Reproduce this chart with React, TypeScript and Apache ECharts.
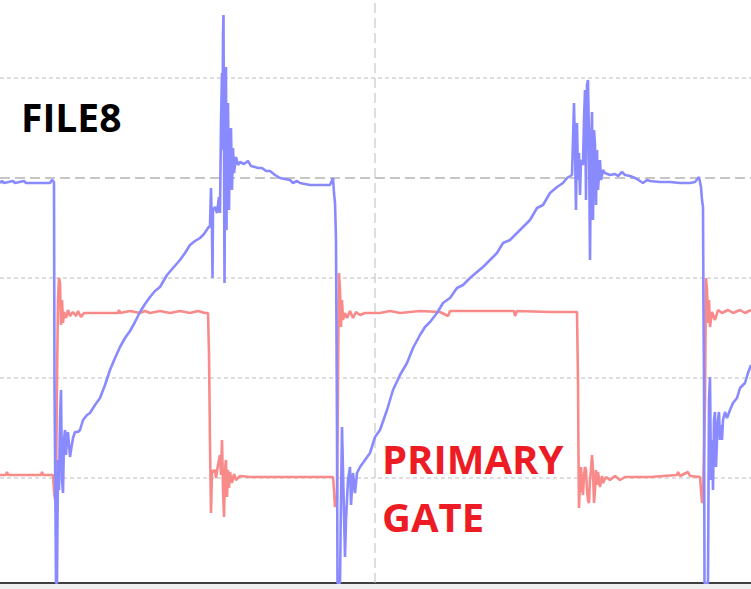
import React, { useEffect, useRef } from "react";
import * as echarts from "echarts";

// Time axis (arbitrary sample units) and voltage (scope units, 100 per division)
const X_MIN = 0;
const X_MAX = 751;
const Y_MIN = -105;
const Y_MAX = 478;

const gridLevels = [0, 100, 200, 400];
const centerLevel = 300;
const centerTime = 375;

const drainLabel = "FILE8";
const gateLabelLines = ["PRIMARY", "GATE"];

// Blue trace (drain / primary voltage)
const blueTrace: [number, number][] = [
  [0, 295], [2, 297], [4, 295], [13, 297], [15, 295], [24, 297], [26, 295], [50, 295], [52, 298], [54, 296],
  [54.5, 95], [55, 95], [56, -105], [57, -105], [58, 18], [59, -12], [60, 58], [61, 88], [62, -2], [63, -15],
  [64, 38], [65, 48], [66, 23], [67, 38], [68, 46], [70, 21], [71, 28], [73, 40], [75, 46], [78, 46],
  [80, 48], [83, 58], [87, 63], [90, 65], [95, 73], [100, 80], [105, 93], [110, 108], [115, 120], [120, 131],
  [125, 140], [130, 147], [135, 156], [140, 166], [145, 174], [150, 181], [155, 187], [160, 191], [167, 203], [173, 210],
  [180, 218], [185, 225], [190, 233], [195, 237], [200, 240], [204, 244], [208, 250], [210, 252], [211, 290], [212, 248],
  [212.5, 200], [213, 268], [215, 271], [217, 265], [219, 281], [220, 265], [221, 356], [222, 405], [222.5, 328], [223, 443],
  [223.5, 463], [224, 328], [224.5, 195], [225, 298], [226, 411], [226.5, 248], [227, 358], [228, 375], [229, 268], [230, 338],
  [231, 350], [232, 288], [233, 330], [234, 305], [236, 321], [238, 313], [240, 316], [244, 314], [248, 317], [251, 312],
  [255, 311], [258, 310], [262, 310], [266, 307], [270, 307], [275, 303], [280, 300], [285, 299], [290, 298], [293, 295],
  [297, 297], [300, 295], [310, 293], [330, 293], [333, 300], [334, 285], [335, 275], [336, 238], [337, 48], [337.5, -105],
  [340, -105], [341, -22], [342, 51], [343, 8], [345, -79], [346, -42], [348, -2], [350, 11], [351, -27], [353, 5],
  [355, -15], [357, 5], [360, 11], [365, 18], [370, 25], [375, 41], [380, 48], [387, 68], [393, 88], [400, 103],
  [407, 115], [413, 130], [420, 143], [425, 151], [430, 156], [437, 165], [443, 175], [450, 180], [457, 190], [463, 193],
  [470, 200], [477, 206], [483, 211], [490, 218], [497, 225], [503, 235], [510, 238], [517, 245], [523, 251], [530, 258],
  [537, 270], [543, 273], [550, 285], [557, 291], [563, 295], [567, 300], [572, 303], [573, 338], [574, 375], [575, 328],
  [576, 268], [577, 355], [578, 298], [579, 325], [580, 283], [581, 318], [583, 313], [584, 358], [585, 388], [586, 278],
  [587, 393], [588, 398], [589, 338], [590, 218], [591, 328], [592, 366], [593, 258], [594, 348], [595, 333], [596, 273],
  [597, 328], [598, 288], [600, 318], [601, 298], [603, 308], [605, 305], [610, 303], [615, 304], [618, 302], [622, 306],
  [625, 303], [630, 302], [635, 300], [640, 297], [643, 295], [647, 298], [650, 297], [660, 296], [670, 296], [680, 295],
  [690, 295], [695, 296], [699, 301], [701, 291], [702, 278], [703, 271], [703.5, 165], [704, 100], [704.5, -105], [708, -105],
  [709, 78], [710, 101], [711, -2], [712, 38], [713, -12], [714, 58], [715, 66], [716, 11], [717, 38], [718, 58],
  [719, 66], [720, 38], [721, 53], [722, 38], [723, 58], [725, 66], [727, 60], [730, 68], [733, 75], [737, 80],
  [740, 90], [745, 95], [748, 105], [751, 113],
];

// Red trace (primary gate voltage)
const redTrace: [number, number][] = [
  [0, 3], [6, 3], [7, 6], [8, 3], [41, 3], [42, 6], [43, 3], [53, 3], [54, -12], [55, -22],
  [56, -17], [57, 98], [58, 178], [59, 200], [60, 195], [61, 153], [62, 178], [63, 155], [64, 166], [66, 160],
  [68, 168], [70, 162], [73, 166], [76, 162], [78, 167], [81, 161], [84, 165], [88, 165], [118, 165], [119, 168],
  [120, 165], [130, 167], [140, 165], [145, 167], [150, 165], [160, 167], [170, 165], [180, 167], [190, 165], [198, 167],
  [205, 165], [208, 165], [209, 125], [210, 35], [211, -35], [212, 8], [213, 6], [215, 8], [216, 0], [218, 13],
  [220, 23], [221, 3], [222, 38], [223, -12], [224, -39], [225, 8], [226, 18], [227, -19], [228, 8], [229, -10],
  [230, 6], [232, -5], [234, 4], [236, -2], [240, 2], [250, 1], [333, 1], [334, -12], [335, -29], [337, -22],
  [338, 98], [339, 205], [340, 188], [341, 151], [342, 178], [343, 158], [345, 165], [347, 160], [350, 167], [353, 160],
  [356, 166], [360, 163], [365, 165], [380, 165], [390, 167], [400, 165], [420, 167], [440, 166], [448, 162], [450, 167],
  [480, 167], [514, 167], [515, 162], [517, 167], [550, 166], [577, 166], [578, 98], [578.5, 20], [579, -30], [580, -2],
  [581, 11], [582, -12], [583, -17], [584, 3], [585, 11], [586, 8], [587, -12], [588, -22], [589, -25], [590, -2],
  [591, 8], [592, 23], [593, 8], [594, -25], [595, -12], [596, 8], [597, -7], [598, 6], [600, -9], [602, 2],
  [603, -5], [606, 1], [610, -2], [615, 2], [620, -2], [625, 1], [650, 1], [677, 3], [678, 6], [680, 2],
  [688, 6], [690, 2], [700, 1], [701, -12], [702, -25], [703, -22], [705, 78], [706, 200], [707, 188], [708, 155],
  [709, 178], [710, 151], [712, 166], [715, 158], [718, 168], [722, 165], [728, 168], [733, 165], [740, 168], [745, 165],
  [751, 168],
];

const BLUE = "#8a8aff";
const RED = "#f88a8a";
const TEXT_RED = "#ed1c24";
const GRID = "#bdbdbd";

export default function App() {
  const ref = useRef<HTMLDivElement>(null);

  useEffect(() => {
    if (!ref.current) return;
    const chart = echarts.init(ref.current, null, { renderer: "svg" });

    const gridSeries: any[] = gridLevels.map((lv) => ({
      type: "line",
      silent: true,
      symbol: "none",
      z: 1,
      data: [
        [X_MIN, lv],
        [X_MAX, lv],
      ],
      lineStyle: { color: GRID, width: 1, type: [4, 3] },
    }));
    gridSeries.push({
      type: "line",
      silent: true,
      symbol: "none",
      z: 1,
      data: [
        [X_MIN, centerLevel],
        [X_MAX, centerLevel],
      ],
      lineStyle: { color: "#b4b4b4", width: 1.3, type: [10, 5] },
    });
    gridSeries.push({
      type: "line",
      silent: true,
      symbol: "none",
      z: 1,
      data: [
        [centerTime, Y_MIN],
        [centerTime, Y_MAX],
      ],
      lineStyle: { color: GRID, width: 1, type: [10, 5] },
    });

    chart.setOption({
      animation: false,
      backgroundColor: "#ffffff",
      grid: { left: 0, right: 0, top: 0, bottom: 6, containLabel: false },
      xAxis: {
        type: "value",
        min: X_MIN,
        max: X_MAX,
        axisLabel: { show: false },
        axisTick: { show: false },
        splitLine: { show: false },
        axisLine: { show: true, onZero: false, lineStyle: { color: "#000000", width: 1.5 } },
      },
      yAxis: {
        type: "value",
        min: Y_MIN,
        max: Y_MAX,
        axisLabel: { show: false },
        axisTick: { show: false },
        splitLine: { show: false },
        axisLine: { show: false },
      },
      graphic: [
        {
          type: "rect",
          left: 0,
          top: 584,
          shape: { width: 751, height: 5 },
          style: { fill: "#f0f0f0" },
          z: 100,
        },
        {
          type: "text",
          x: 21,
          y: 116,
          z: 100,
          style: {
            text: drainLabel,
            fill: "#000000",
            font: "bold 39px 'Open Sans', sans-serif",
            verticalAlign: "middle",
            align: "left",
          },
        },
        {
          type: "text",
          x: 382,
          y: 458,
          z: 100,
          style: {
            text: gateLabelLines[0],
            fill: TEXT_RED,
            font: "bold 40px 'Open Sans', sans-serif",
            verticalAlign: "middle",
            align: "left",
          },
        },
        {
          type: "text",
          x: 382,
          y: 516,
          z: 100,
          style: {
            text: gateLabelLines[1],
            fill: TEXT_RED,
            font: "bold 40px 'Open Sans', sans-serif",
            verticalAlign: "middle",
            align: "left",
          },
        },
      ],
      series: [
        ...gridSeries,
        {
          type: "line",
          name: "gate",
          symbol: "none",
          z: 3,
          data: redTrace,
          lineStyle: { color: RED, width: 2.6 },
          silent: true,
        },
        {
          type: "line",
          name: "drain",
          symbol: "none",
          z: 4,
          data: blueTrace,
          lineStyle: { color: BLUE, width: 2.6 },
          silent: true,
        },
      ],
    });

    return () => chart.dispose();
  }, []);

  return (
    <div
      ref={ref}
      style={{ position: "absolute", left: 0, top: 0, width: 751, height: 589 }}
    />
  );
}
